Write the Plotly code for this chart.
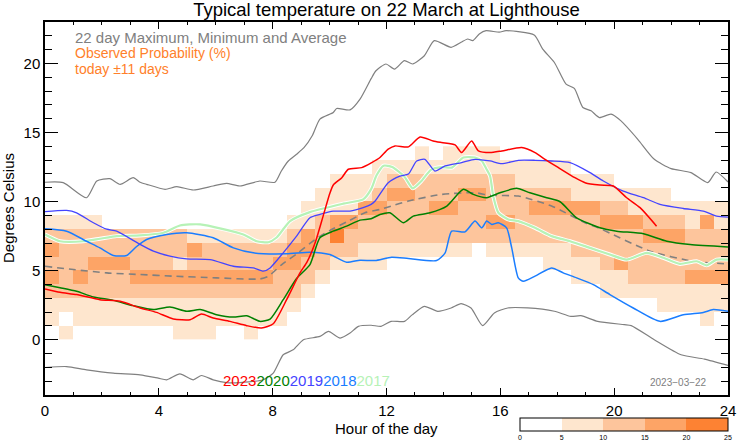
import numpy as np
import plotly.graph_objects as go

# ---------------- data ----------------
# probability (%) per half-hour column (0..47), per 1-degree row (0..13 deg, lower edge)
prob_cols = [
    [0,7,7,12,17,12,17,12,7,0,0,0,0,0],
    [7,0,7,12,12,12,12,12,7,0,0,0,0,0],
    [0,7,7,12,17,12,12,12,7,0,0,0,0,0],
    [0,7,7,12,12,17,12,12,7,0,0,0,0,0],
    [0,7,7,12,12,17,12,12,0,0,0,0,0,0],
    [0,7,7,12,12,17,12,12,0,0,0,0,0,0],
    [0,7,7,12,17,12,12,12,0,0,0,0,0,0],
    [0,7,7,12,17,12,12,12,0,0,0,0,0,0],
    [0,7,7,12,17,12,12,12,0,0,0,0,0,0],
    [7,7,7,12,17,7,12,12,0,0,0,0,0,0],
    [7,7,7,12,17,12,17,7,0,0,0,0,0,0],
    [7,7,7,12,17,12,12,7,0,0,0,0,0,0],
    [0,7,7,12,17,12,12,7,0,0,0,0,0,0],
    [0,7,7,12,17,12,12,7,0,0,0,0,0,0],
    [7,7,7,12,17,12,12,7,0,0,0,0,0,0],
    [0,7,7,12,17,12,12,7,0,0,0,0,0,0],
    [0,7,7,12,12,17,12,7,0,0,0,0,0,0],
    [0,0,7,12,12,17,17,12,7,0,0,0,0,0],
    [0,0,0,7,12,12,17,17,7,7,0,0,0,0],
    [0,0,0,0,7,12,12,12,12,7,7,0,0,0],
    [0,0,0,0,0,7,12,22,17,7,7,7,0,0],
    [0,0,0,0,0,7,12,12,17,7,7,7,0,0],
    [0,0,0,0,0,7,7,12,12,17,7,7,0,0],
    [0,0,0,0,0,7,7,12,12,17,12,7,7,0],
    [0,0,0,0,0,0,7,12,12,12,17,12,7,0],
    [0,0,0,0,0,0,7,12,12,12,17,12,7,0],
    [0,0,0,0,0,0,7,12,12,12,12,12,7,7],
    [0,0,0,0,0,0,7,12,12,17,12,12,7,0],
    [0,0,0,0,0,0,7,12,12,17,12,12,7,7],
    [0,0,0,0,0,0,7,12,12,12,17,12,7,7],
    [0,0,0,0,0,0,0,12,12,12,17,12,7,7],
    [0,0,0,0,0,0,7,12,17,12,12,12,7,7],
    [0,0,0,0,0,0,7,12,17,12,12,12,7,0],
    [0,0,0,0,0,0,7,12,12,12,12,7,7,0],
    [0,0,0,0,0,0,7,12,12,17,12,7,7,0],
    [0,0,0,0,0,7,7,12,12,17,12,7,7,0],
    [0,0,0,0,0,7,7,12,12,17,12,7,7,0],
    [0,0,0,0,7,7,12,12,12,17,7,7,0,0],
    [0,0,0,0,7,7,12,12,12,17,7,7,0,0],
    [0,0,0,7,7,12,12,12,17,12,7,7,0,0],
    [0,0,0,7,7,17,12,12,17,12,7,0,0,0],
    [0,0,0,7,12,12,12,12,17,7,7,0,0,0],
    [0,0,0,7,12,12,12,17,12,7,7,0,0,0],
    [0,0,7,7,12,12,12,17,12,7,7,0,0,0],
    [0,0,7,7,12,12,12,17,12,7,0,0,0,0],
    [0,0,7,7,17,12,12,12,7,7,0,0,0,0],
    [0,7,7,7,17,12,12,12,17,7,0,0,0,0],
    [0,0,7,7,17,12,12,12,7,7,0,0,0,0],
]
prob_hours = [0.25 + 0.5 * i for i in range(48)]
prob_temps = [0.5 + d for d in range(14)]

max_h = [0, 0.64, 1.46, 1.82, 2.28, 2.64, 3.10, 3.34, 3.57, 4.22, 4.63, 5.21, 5.91, 6.38, 6.85, 7.55, 8.08, 8.3, 8.55, 8.84,
         9.1, 9.4, 9.66, 10.13, 10.25, 10.72, 11.07, 11.46, 11.63, 11.98, 12.28, 12.63, 12.92, 13.33, 13.68, 14.27, 14.62,
         14.85, 15.03, 15.26, 15.5, 15.96, 16.2, 17.19, 17.49, 17.9, 18.31, 18.6, 18.9, 19.19, 19.48, 19.89, 20.24, 20.83,
         21.41, 22.0, 22.7, 23.29, 23.58, 24.0]
max_t = [11.40, 11.37, 10.28, 11.49, 11.66, 11.25, 11.73, 11.40, 11.25, 10.89, 11.08, 10.84, 11.13, 11.32, 11.13, 11.49,
         11.40, 12.2, 12.94, 13.43, 13.9, 14.8, 15.97, 16.45, 16.74, 16.64, 17.42, 18.9, 19.47, 19.96, 19.59, 20.2, 19.96,
         20.56, 21.65, 21.17, 21.53, 21.77, 21.65, 22.13, 22.37, 22.26, 22.37, 22.06, 21.04, 20.07, 18.5, 18.19, 16.81,
         16.57, 16.08, 16.33, 15.84, 14.51, 13.06, 12.39, 12.1, 11.37, 12.14, 11.42]

min_h = [0, 0.76, 1.46, 2.4, 3.34, 3.98, 4.28, 4.74, 5.21, 5.5, 5.91, 6.38, 6.85, 7.67, 8.02, 8.37, 8.72, 9.08, 9.66, 9.96,
         10.37, 10.72, 11.01, 11.46, 11.81, 12.16, 12.63, 12.9, 13.33, 13.8, 14.27, 14.62, 14.97, 15.38, 15.79, 16.26, 16.96,
         17.9, 18.48, 18.83, 19.42, 20.36, 20.6, 21.41, 22.35, 23.17, 24.0]
min_t = [-2.01, -1.94, -2.18, -2.42, -2.54, -2.78, -2.9, -2.47, -2.9, -2.59, -2.9, -3.1, -3.1, -2.9, -2.42, -1.09, -0.73,
         0.0, 0.24, 0.6, 0.12, 0.48, 0.97, 1.05, 0.97, 1.33, 1.33, 1.8, 2.42, 2.06, 2.3, 2.61, 2.3, 1.02, 1.94, 2.3, 2.3,
         2.06, 1.69, 1.74, 1.33, 1.09, 1.02, 0.0, -1.09, -1.4, -1.86]

avg_h = [0, 1.0, 2.17, 3.34, 4.51, 6.03, 7.55, 7.85, 8.32, 8.9, 9.49, 10.07, 10.66, 11.24, 11.77, 12.18, 12.77, 13.94,
         15.11, 15.64, 16.63, 17.8, 18.98, 19.5, 21.26, 22.78, 24.0]
avg_t = [5.32, 5.08, 4.84, 4.72, 4.6, 4.48, 4.4, 4.6, 5.44, 6.29, 7.26, 7.98, 8.59, 9.19, 9.43, 9.68, 10.04, 10.52, 10.64,
         10.45, 10.4, 9.68, 8.47, 8.05, 6.41, 5.68, 5.49]

y2023_h = [0, 0.53, 1.11, 1.93, 2.64, 3.34, 3.92, 4.51, 5.1, 5.5, 5.91, 6.5, 7.09, 7.61, 8.02, 8.49, 8.96, 9.2, 9.49, 9.78,
           10.01, 10.13, 10.43, 10.66, 11.13, 11.48, 11.77, 12.06, 12.3, 12.77, 13.18, 13.64, 13.94, 14.41, 14.64, 14.99,
           15.23, 15.64, 16.05, 16.75, 17.22, 17.57, 18.04, 18.62, 19.0, 19.5, 19.97, 20.44, 20.91, 21.49]
y2023_t = [3.68, 3.43, 3.27, 2.9, 2.78, 2.3, 1.98, 1.5, 1.45, 1.86, 1.57, 1.33, 1.02, 0.85, 1.16, 2.9, 4.84, 5.6, 7.0, 9.0,
           10.6, 11.2, 11.73, 12.34, 12.46, 12.82, 13.19, 13.79, 14.03, 13.96, 14.68, 14.39, 14.27, 14.1, 13.55, 14.39,
           13.67, 13.55, 13.67, 13.91, 13.55, 13.06, 12.46, 11.73, 11.35, 11.2, 11.13, 10.28, 9.56, 8.22]

y2020_h = [0, 0.53, 1.11, 1.7, 2.4, 3.1, 3.81, 4.39, 4.98, 5.45, 6.03, 6.62, 7.09, 7.55, 7.91, 8.37, 8.84, 9.31, 9.66,
           10.13, 10.6, 11.07, 11.46, 11.77, 12.12, 12.59, 12.94, 13.53, 14.12, 14.7, 15.05, 15.52, 15.99, 16.57, 17.04,
           17.63, 18.1, 18.68, 19.5, 20.09, 21.03, 21.85, 22.67, 24.0]
y2020_t = [3.99, 3.77, 3.51, 3.1, 2.85, 2.47, 2.18, 2.37, 2.06, 2.18, 1.81, 1.64, 1.74, 1.33, 1.5, 2.9, 4.43, 5.44, 7.38,
           7.86, 8.22, 8.66, 8.76, 9.07, 9.19, 8.47, 8.95, 9.19, 9.68, 10.89, 10.52, 10.28, 10.64, 10.96, 10.64, 10.28,
           9.99, 8.83, 8.1, 7.86, 7.67, 7.13, 6.89, 6.72]

y2019_h = [0, 0.76, 1.11, 1.7, 2.17, 2.52, 3.34, 3.81, 4.39, 4.98, 5.8, 6.62, 7.32, 7.67, 7.91, 8.37, 8.84, 9.31, 9.66,
           10.13, 10.72, 11.18, 11.46, 11.6, 12.06, 12.47, 12.77, 13.06, 13.35, 13.7, 14.06, 14.64, 15.11, 15.64, 16.05,
           16.63, 17.22, 17.8, 18.45, 19.15, 19.62, 20.32, 21.03, 21.61, 22.43, 23.13, 23.6, 24.0]
y2019_t = [9.27, 9.36, 9.19, 8.47, 8.0, 7.86, 6.9, 6.41, 6.05, 5.85, 5.8, 5.32, 5.2, 4.96, 5.2, 6.29, 7.5, 8.83, 9.07,
           9.31, 9.31, 9.56, 9.8, 10.04, 11.37, 11.85, 12.0, 12.94, 13.06, 12.21, 12.58, 12.82, 13.06, 12.94, 12.75,
           12.99, 12.99, 12.94, 12.82, 12.1, 11.49, 10.76, 10.28, 9.8, 9.5, 9.31, 8.95, 8.88]

y2018_h = [0, 0.76, 1.46, 1.93, 2.4, 2.87, 3.22, 3.57, 4.28, 4.98, 5.91, 6.62, 7.32, 8.49, 9.31, 10.01, 10.6, 11.07, 11.6,
           12.18, 12.77, 13.76, 14.06, 14.29, 14.76, 15.11, 15.35, 15.52, 15.7, 15.93, 16.22, 16.4, 16.63, 16.81, 17.22,
           17.8, 18.21, 18.68, 19.27, 19.85, 20.67, 21.61, 22.43, 23.13, 23.48, 24.0]
y2018_t = [8.03, 7.86, 7.13, 6.65, 6.1, 6.1, 6.75, 7.26, 7.62, 7.74, 7.38, 6.65, 6.29, 6.22, 6.34, 6.17, 5.61, 5.76,
           5.73, 5.97, 5.88, 5.73, 6.29, 7.86, 7.81, 8.59, 8.1, 8.59, 8.35, 8.47, 8.1, 6.65, 4.48, 4.23, 4.6, 5.2, 4.84,
           4.48, 3.99, 3.27, 2.3, 1.33, 1.81, 1.98, 2.18, 2.06]

y2017_h = [0, 0.53, 1.35, 1.93, 2.52, 3.34, 4.16, 4.74, 5.45, 6.97, 7.44, 7.85, 8.14, 8.61, 9.31, 10.48, 11.18, 11.46,
           11.65, 11.9, 12.2, 12.63, 12.92, 13.21, 13.56, 13.94, 14.3, 14.7, 15.11, 15.35, 15.5, 15.64, 15.75, 15.93,
           16.28, 16.63, 17.22, 17.8, 18.45, 19.15, 19.85, 20.44, 21.14, 21.73, 22.31, 22.9, 23.25, 23.6, 24.0]
y2017_t = [7.62, 7.13, 7.13, 7.31, 7.5, 7.55, 7.74, 8.27, 8.35, 7.62, 7.13, 7.06, 7.4, 8.59, 9.24, 9.85, 10.16, 10.9,
           11.9, 12.6, 12.5, 11.8, 10.96, 11.45, 12.3, 12.5, 12.46, 13.19, 13.19, 12.94, 12.4, 11.85, 10.4, 9.19, 8.71,
           8.59, 8.1, 7.5, 7.13, 6.65, 6.17, 5.8, 6.29, 5.93, 5.49, 5.68, 5.39, 5.8, 5.8]

x_ticks = [0, 4, 8, 12, 16, 20, 24]
y_ticks = [0, 5, 10, 15, 20]
cbar_ticks = [0, 5, 10, 15, 20, 25]

# ---------------- figure ----------------
FONT = "Liberation Sans, Arial, Helvetica, sans-serif"
GRAY = "#808080"
ORANGE = "#ff7f2a"

z = np.array(prob_cols, dtype=float).T
z[z == 0] = np.nan

c_l, c_m, c_d, c_x = "#fee6ce", "#fdc59c", "#fda466", "#fd8233"
cscale = [[0, "#ffffff"], [0.2, "#ffffff"], [0.2, c_l], [0.4, c_l], [0.4, c_m], [0.6, c_m],
          [0.6, c_d], [0.8, c_d], [0.8, c_x], [1.0, c_x]]

fig = go.Figure()
fig.add_trace(go.Heatmap(
    x=prob_hours, y=prob_temps, z=z, zmin=0, zmax=25, colorscale=cscale,
    hoverinfo="skip", xgap=0, ygap=0,
    colorbar=dict(orientation="h", x=(520 - 45) / 683, xanchor="left",
                  y=(395 - 418) / 373, yanchor="top", lenmode="pixels", len=208,
                  thicknessmode="pixels", thickness=13, outlinewidth=1, outlinecolor="black",
                  tickvals=cbar_ticks, ticks="", tickfont=dict(size=7, family=FONT, color="black"),
                  xpad=0, ypad=0),
))

def line(h, t, color, width, dash=None):
    fig.add_trace(go.Scatter(x=h, y=t, mode="lines", hoverinfo="skip",
                             line=dict(color=color, width=width, dash=dash, shape="spline", smoothing=0.6)))

line(max_h, max_t, GRAY, 1.2)
line(min_h, min_t, GRAY, 1.2)
line(avg_h, avg_t, GRAY, 1.6, "7px,5px")
line(y2017_h, y2017_t, "#ffffff", 4)
line(y2017_h, y2017_t, "#b6f2b6", 2.2)
line(y2018_h, y2018_t, "#1a7dff", 1.5)
line(y2019_h, y2019_t, "#4444ff", 1.3)
line(y2020_h, y2020_t, "#008000", 1.5)
line(y2023_h, y2023_t, "#ff0000", 1.5)

axis_common = dict(showgrid=False, zeroline=False, showline=True, linecolor="black", linewidth=1.5,
                   mirror="ticks", ticks="inside", tickcolor="black",
                   tickfont=dict(size=15, family=FONT, color="black"))
fig.update_xaxes(range=[0, 24], tickvals=x_ticks, ticklen=7, tickwidth=1, ticklabelstandoff=1,
                 minor=dict(dtick=1, ticklen=3.5, ticks="inside", tickcolor="black", tickwidth=1),
                 **axis_common)
fig.update_yaxes(range=[-4, 23], tickvals=y_ticks, ticklen=13, tickwidth=1,
                 minor=dict(dtick=1, ticklen=7, ticks="inside", tickcolor="black", tickwidth=1),
                 **axis_common)

ann = []
ann.append(dict(x=1.0, y=21.87, xref="x", yref="y", xanchor="left", yanchor="middle", showarrow=False,
                text="22 day Maximum, Minimum and Average", font=dict(size=15, family=FONT, color=GRAY)))
ann.append(dict(x=1.0, y=20.78, xref="x", yref="y", xanchor="left", yanchor="middle", showarrow=False,
                text="Observed Probability (%)", font=dict(size=14, family=FONT, color=ORANGE)))
ann.append(dict(x=1.0, y=19.62, xref="x", yref="y", xanchor="left", yanchor="middle", showarrow=False,
                text="today \u00b111 days", font=dict(size=14, family=FONT, color=ORANGE)))
ann.append(dict(x=6.2, y=-2.92, xref="x", yref="y", xanchor="left", yanchor="middle", showarrow=False,
                text=("<span style='color:#ff0000'>2023</span><span style='color:#008000'>2020</span>"
                      "<span style='color:#4444ff'>2019</span><span style='color:#1a7dff'>2018</span>"
                      "<span style='color:#b6f2b6'>2017</span>"),
                font=dict(size=15, family=FONT)))
ann.append(dict(x=23.33, y=-3.06, xref="x", yref="y", xanchor="right", yanchor="middle", showarrow=False,
                text="2023\u221203\u221222", font=dict(size=10, family=FONT, color=GRAY)))
ann.append(dict(x=0.5, y=(395 - 428) / 373, xref="paper", yref="paper", xanchor="center", yanchor="middle",
                showarrow=False, text="Hour of the day", font=dict(size=15, family=FONT, color="black")))
ann.append(dict(x=(8 - 45) / 683, y=(395 - 208) / 373, xref="paper", yref="paper", xanchor="center",
                yanchor="middle", textangle=-90, showarrow=False, text="Degrees Celsius",
                font=dict(size=15, family=FONT, color="black")))

fig.update_layout(
    width=742, height=445, margin=dict(l=45, r=14, t=22, b=50, autoexpand=False),
    paper_bgcolor="white", plot_bgcolor="white", showlegend=False,
    title=dict(text="Typical temperature on 22 March at Lighthouse", x=0.5, xref="paper", xanchor="center",
               y=1 - 10 / 445, yref="container", yanchor="middle",
               font=dict(size=18.5, family=FONT, color="black")),
    annotations=ann,
)

fig.write_html("out.html")
